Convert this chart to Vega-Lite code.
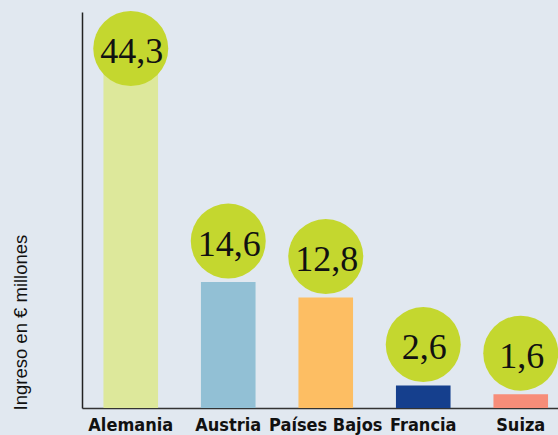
{
  "$schema": "https://vega.github.io/schema/vega-lite/v6.json",
  "autosize": "none",
  "padding": {"left": 82, "top": 12, "right": 0, "bottom": 27},
  "width": 487.5,
  "height": 396,
  "background": "#e1e8f0",
  "config": {"view": {"stroke": null}},
  "data": {"values": [
    {"pais": "Alemania", "valor": 44.3, "etiqueta": "44,3"},
    {"pais": "Austria", "valor": 14.6, "etiqueta": "14,6"},
    {"pais": "Países Bajos", "valor": 12.8, "etiqueta": "12,8"},
    {"pais": "Francia", "valor": 2.6, "etiqueta": "2,6"},
    {"pais": "Suiza", "valor": 1.6, "etiqueta": "1,6"}
  ]},
  "encoding": {
    "x": {
      "field": "pais", "type": "nominal", "sort": null,
      "scale": {"paddingInner": 0.44, "paddingOuter": 0.22},
      "axis": {
        "title": null, "labelAngle": 0, "ticks": false,
        "domainColor": "#333333", "domainWidth": 1.5,
        "labelFont": "DejaVu Sans Condensed, Liberation Sans", "labelFontWeight": "bold",
        "labelFontSize": 18, "labelColor": "#111111", "labelPadding": 8,
        "labelBaseline": "top"
      }
    },
    "y": {
      "field": "valor", "type": "quantitative",
      "scale": {"domain": [0, 45.9], "nice": false},
      "axis": {
        "title": "Ingreso en € millones", "labels": false, "ticks": false, "grid": false,
        "domainColor": "#222222", "domainWidth": 1.5,
        "titleFont": "Liberation Sans", "titleFontWeight": "normal", "titleFontSize": 18.5,
        "titleColor": "#111111", "titleAngle": -90, "titleX": -62, "titleY": 398,
        "titleAlign": "left", "titleBaseline": "middle"
      }
    }
  },
  "layer": [
    {
      "mark": {"type": "bar"},
      "encoding": {
        "color": {
          "field": "pais", "type": "nominal", "legend": null,
          "scale": {
            "domain": ["Alemania", "Austria", "Países Bajos", "Francia", "Suiza"],
            "range": ["#dde89b", "#92c0d5", "#fdbe63", "#153f8d", "#f78d79"]
          }
        }
      }
    },
    {
      "transform": [{"filter": "datum.pais !== 'Alemania'"}],
      "mark": {"type": "point", "shape": "circle", "filled": true, "opacity": 1, "size": 5625, "color": "#c4d72f", "yOffset": -41},
      "encoding": {}
    },
    {
      "transform": [{"filter": "datum.pais === 'Alemania'"}],
      "mark": {"type": "point", "shape": "circle", "filled": true, "opacity": 1, "size": 5625, "color": "#c4d72f", "yOffset": 22.7},
      "encoding": {}
    },
    {
      "transform": [{"filter": "datum.pais !== 'Alemania'"}],
      "mark": {"type": "text", "font": "Liberation Serif", "fontSize": 36, "color": "#111111", "baseline": "alphabetic", "align": "center", "yOffset": -26.5, "xOffset": 1},
      "encoding": {"text": {"field": "etiqueta"}}
    },
    {
      "transform": [{"filter": "datum.pais === 'Alemania'"}],
      "mark": {"type": "text", "font": "Liberation Serif", "fontSize": 36, "color": "#111111", "baseline": "alphabetic", "align": "center", "yOffset": 37.2, "xOffset": 1},
      "encoding": {"text": {"field": "etiqueta"}}
    }
  ]
}
